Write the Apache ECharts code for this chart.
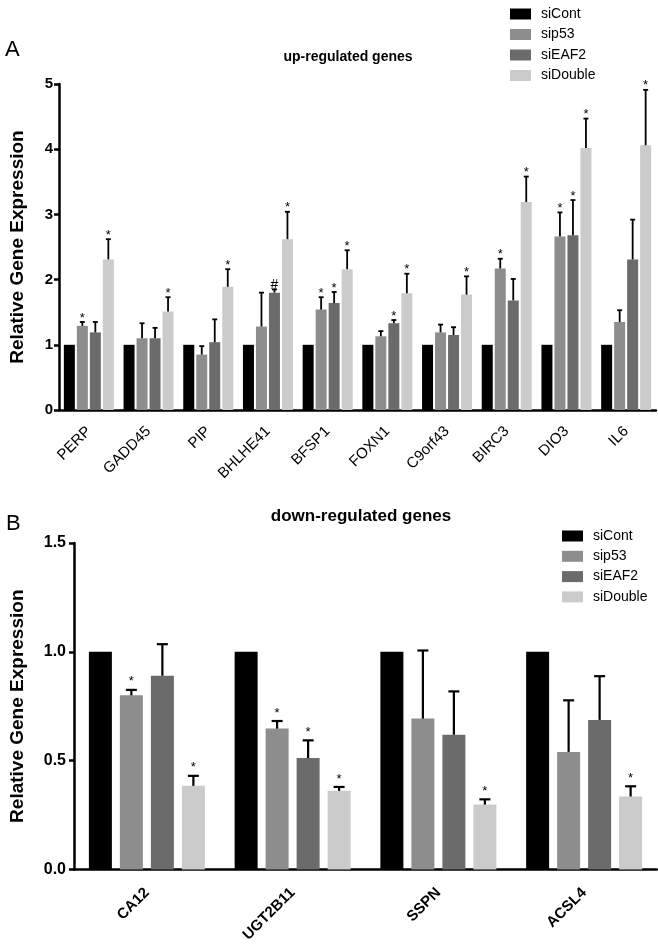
<!DOCTYPE html>
<html>
<head>
<meta charset="utf-8">
<script src="https://cdn.jsdelivr.net/npm/echarts@6/dist/echarts.min.js"></script>
<style>
html,body{margin:0;padding:0;background:#fff;}
#chart{width:658px;height:945px;}
</style>
</head>
<body>
<div id="chart"></div>
<script>
// ---- Data: panel A (up-regulated genes) ----
const upGenes = ['PERP','GADD45','PIP','BHLHE41','BFSP1','FOXN1','C9orf43','BIRC3','DIO3','IL6'];
const upCont   = [1,1,1,1,1,1,1,1,1,1];
const upP53    = [1.29,1.10,0.85,1.28,1.54,1.13,1.19,2.17,2.66,1.35];
const upP53Err = [0.06,0.23,0.13,0.52,0.19,0.08,0.12,0.15,0.37,0.18];
const upEAF2    = [1.19,1.10,1.04,1.80,1.64,1.33,1.15,1.68,2.68,2.31];
const upEAF2Err = [0.16,0.16,0.35,0.05,0.17,0.05,0.12,0.33,0.54,0.61];
const upDouble    = [2.31,1.51,1.89,2.62,2.16,1.79,1.77,3.19,4.02,4.06];
const upDoubleErr = [0.31,0.22,0.27,0.42,0.29,0.30,0.28,0.39,0.45,0.85];
const upP53Mark    = ['*','','','','*','','','*','*',''];
const upEAF2Mark   = ['','','','#','*','*','','','*',''];
const upDoubleMark = ['*','*','*','*','*','*','*','*','*','*'];
const upTicks = [0,1,2,3,4,5];

// ---- Data: panel B (down-regulated genes) ----
const downGenes = ['CA12','UGT2B11','SSPN','ACSL4'];
const downCont   = [1,1,1,1];
const downP53    = [0.80,0.647,0.693,0.54];
const downP53Err = [0.025,0.035,0.313,0.237];
const downEAF2    = [0.89,0.512,0.619,0.687];
const downEAF2Err = [0.145,0.081,0.199,0.201];
const downDouble    = [0.384,0.361,0.298,0.335];
const downDoubleErr = [0.046,0.018,0.024,0.047];
const downP53Mark    = ['*','*','',''];
const downEAF2Mark   = ['','*','',''];
const downDoubleMark = ['*','*','*','*'];
const downTicks = ['0.0','0.5','1.0','1.5'];

const groups = ['siCont','sip53','siEAF2','siDouble'];
const colors = ['#000000','#8d8d8d','#6b6b6b','#cbcbcb'];
const FONT = 'Liberation Sans, Arial, Helvetica, sans-serif';

const A = {barW: 11, gap: 2, cap: 5, lw: 1.8, starOff: 4, starSize: 13};
const B = {barW: 23, gap: 8, cap: 11, lw: 2.2, starOff: 8, starSize: 13};

function bar(name, data, idx, cfg, color) {
  return {
    name: name, type: 'bar', xAxisIndex: idx, yAxisIndex: idx, data: data,
    barWidth: cfg.barW, barGap: (cfg.gap / cfg.barW * 100) + '%',
    itemStyle: {color: color}, silent: true, z: 2
  };
}
function err(vals, errs, marks, pos, idx, cfg) {
  return {
    type: 'custom', xAxisIndex: idx, yAxisIndex: idx, z: 5, silent: true, clip: false,
    data: vals.map((v, i) => [i, v, v + errs[i]]),
    renderItem: function (params, api) {
      const i = api.value(0);
      const b = api.coord([i, api.value(1)]);
      const t = api.coord([i, api.value(2)]);
      const cx = b[0] + (pos - 1.5) * (cfg.barW + cfg.gap);
      const ch = [
        {type: 'line', shape: {x1: cx, y1: b[1], x2: cx, y2: t[1]}, style: {stroke: '#000', lineWidth: cfg.lw}},
        {type: 'line', shape: {x1: cx - cfg.cap / 2, y1: t[1], x2: cx + cfg.cap / 2, y2: t[1]}, style: {stroke: '#000', lineWidth: cfg.lw}}
      ];
      const m = marks[params.dataIndex];
      if (m) {
        ch.push({type: 'text', style: {text: m, x: cx, y: t[1] - cfg.starOff, align: 'center', verticalAlign: 'middle',
          fontSize: m === '#' ? 14 : cfg.starSize, fontFamily: FONT, fill: '#000'}});
      }
      return {type: 'group', children: ch};
    }
  };
}

const axisLine = {show: true, lineStyle: {color: '#000', width: 2.5}};

const option = {
  animation: false,
  backgroundColor: '#fff',
  legend: [
    {data: groups, orient: 'vertical', left: 505, top: 2, icon: 'rect', itemWidth: 21, itemHeight: 11, itemGap: 6.5,
     selectedMode: false, textStyle: {fontSize: 14, fontFamily: FONT, color: '#000', lineHeight: 14, padding: [0,0,0,5]}},
    {data: groups, orient: 'vertical', left: 557, top: 524, icon: 'rect', itemWidth: 21, itemHeight: 11, itemGap: 6.3,
     selectedMode: false, textStyle: {fontSize: 14, fontFamily: FONT, color: '#000', lineHeight: 14, padding: [0,0,0,5]}}
  ],
  grid: [
    {left: 53, right: 2, top: 84, height: 326},
    {left: 66, right: 1, top: 543, height: 328}
  ],
  xAxis: [
    {type: 'category', gridIndex: 0, data: upGenes, axisLine: axisLine,
     axisTick: {alignWithLabel: true, length: 5, lineStyle: {width: 2, color: '#000'}},
     axisLabel: {rotate: 45, margin: 19, fontSize: 15, fontFamily: FONT, color: '#000', interval: 0}},
    {type: 'category', gridIndex: 1, data: downGenes, axisLine: axisLine,
     axisTick: {alignWithLabel: true, length: 5, lineStyle: {width: 2, color: '#000'}},
     axisLabel: {rotate: 45, margin: 21, fontSize: 15, fontWeight: 'bold', fontFamily: FONT, color: '#000', interval: 0}}
  ],
  yAxis: [
    {type: 'value', gridIndex: 0, min: upTicks[0], max: upTicks[upTicks.length - 1], interval: 1,
     splitLine: {show: false}, axisLine: axisLine,
     axisTick: {show: true, length: 5, lineStyle: {width: 2.5, color: '#000'}},
     axisLabel: {margin: 6, fontSize: 15, fontWeight: 'bold', fontFamily: FONT, color: '#000'},
     name: 'Relative Gene Expression', nameLocation: 'middle', nameGap: 32,
     nameTextStyle: {fontSize: 19, fontWeight: 'bold', fontFamily: FONT, color: '#000'}},
    {type: 'value', gridIndex: 1, min: 0, max: 1.5, interval: 0.5,
     splitLine: {show: false}, axisLine: axisLine,
     axisTick: {show: true, length: 5, lineStyle: {width: 2.5, color: '#000'}},
     axisLabel: {margin: 8, fontSize: 16, fontWeight: 'bold', fontFamily: FONT, color: '#000',
       formatter: function (v) { return downTicks[Math.round(v / 0.5)]; }},
     name: 'Relative Gene Expression', nameLocation: 'middle', nameGap: 47,
     nameTextStyle: {fontSize: 19, fontWeight: 'bold', fontFamily: FONT, color: '#000'}}
  ],
  graphic: [
    {type: 'text', style: {text: 'A', x: 5, y: 50, verticalAlign: 'middle', fontSize: 22, fontFamily: FONT, fill: '#000'}},
    {type: 'text', style: {text: 'up-regulated genes', x: 348, y: 57, align: 'center', verticalAlign: 'middle', fontSize: 14, fontWeight: 'bold', fontFamily: FONT, fill: '#000'}},
    {type: 'text', style: {text: 'B', x: 6, y: 524, verticalAlign: 'middle', fontSize: 22, fontFamily: FONT, fill: '#000'}},
    {type: 'text', style: {text: 'down-regulated genes', x: 361, y: 516, align: 'center', verticalAlign: 'middle', fontSize: 17, fontWeight: 'bold', fontFamily: FONT, fill: '#000'}}
  ],
  series: [
    bar(groups[0], upCont, 0, A, colors[0]),
    bar(groups[1], upP53, 0, A, colors[1]),
    bar(groups[2], upEAF2, 0, A, colors[2]),
    bar(groups[3], upDouble, 0, A, colors[3]),
    err(upP53, upP53Err, upP53Mark, 1, 0, A),
    err(upEAF2, upEAF2Err, upEAF2Mark, 2, 0, A),
    err(upDouble, upDoubleErr, upDoubleMark, 3, 0, A),
    bar(groups[0], downCont, 1, B, colors[0]),
    bar(groups[1], downP53, 1, B, colors[1]),
    bar(groups[2], downEAF2, 1, B, colors[2]),
    bar(groups[3], downDouble, 1, B, colors[3]),
    err(downP53, downP53Err, downP53Mark, 1, 1, B),
    err(downEAF2, downEAF2Err, downEAF2Mark, 2, 1, B),
    err(downDouble, downDoubleErr, downDoubleMark, 3, 1, B)
  ]
};

const chart = echarts.init(document.getElementById('chart'), null, {renderer: 'canvas'});
chart.setOption(option);
</script>
</body>
</html>
